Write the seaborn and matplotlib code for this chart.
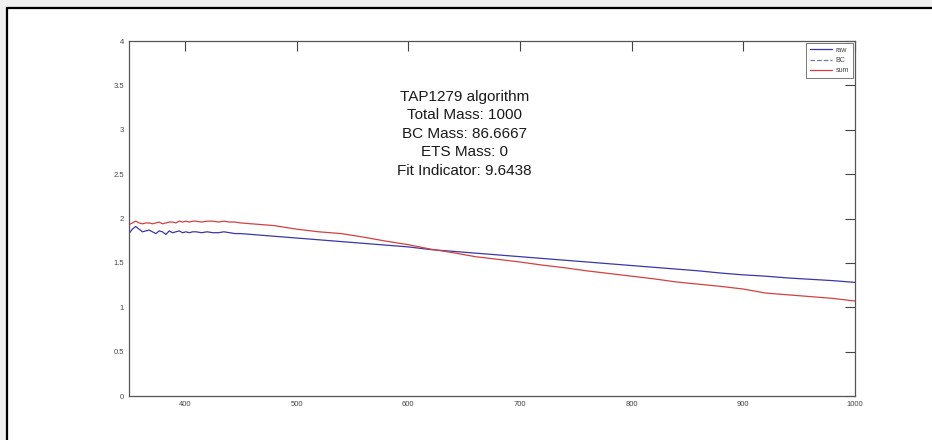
import matplotlib
matplotlib.use("Agg")
import matplotlib.pyplot as plt
from matplotlib.patches import Rectangle
import seaborn as sns
import pandas as pd

wavelength = [350, 353, 356, 359, 362, 365, 368, 371, 374, 377, 380, 383, 386, 389, 392, 395, 398, 401, 404, 407, 410,
              415, 420, 425, 430, 435, 440, 445, 450,
              460, 470, 480, 490, 500,
              520, 540, 560, 580, 600, 620, 640, 660, 680, 700, 720, 740, 760, 780, 800,
              820, 840, 860, 880, 900, 920, 940, 960, 980, 1000]
raw = [1.83, 1.88, 1.91, 1.88, 1.85, 1.86, 1.87, 1.85, 1.83, 1.86, 1.85, 1.82, 1.86, 1.84, 1.85, 1.86, 1.84, 1.85, 1.84, 1.85, 1.85,
       1.84, 1.85, 1.84, 1.84, 1.85, 1.84, 1.83, 1.83,
       1.82, 1.81, 1.80, 1.79, 1.78,
       1.76, 1.74, 1.72, 1.70, 1.68, 1.65, 1.63, 1.61, 1.59, 1.57, 1.55, 1.53, 1.51, 1.49, 1.47,
       1.45, 1.43, 1.41, 1.385, 1.365, 1.35, 1.33, 1.315, 1.30, 1.28]
total = [1.93, 1.95, 1.97, 1.95, 1.94, 1.95, 1.95, 1.94, 1.95, 1.96, 1.94, 1.95, 1.96, 1.96, 1.95, 1.97, 1.96, 1.97, 1.96, 1.97, 1.97,
         1.96, 1.97, 1.97, 1.96, 1.97, 1.96, 1.96, 1.95,
         1.94, 1.93, 1.92, 1.90, 1.88,
         1.85, 1.83, 1.79, 1.745, 1.705, 1.655, 1.615, 1.57, 1.54, 1.51, 1.475, 1.445, 1.41, 1.38, 1.35,
         1.32, 1.285, 1.26, 1.235, 1.205, 1.16, 1.14, 1.12, 1.10, 1.07]
bc = []  # BC curve not visible in the plotted range

info_lines = ["TAP1279 algorithm", "Total Mass: 1000", "BC Mass: 86.6667", "ETS Mass: 0", "Fit Indicator: 9.6438"]
x_ticks = [400, 500, 600, 700, 800, 900, 1000]
y_ticks = [0, 0.5, 1, 1.5, 2, 2.5, 3, 3.5, 4]

sns.set_style("white")
plt.rcParams['font.family'] = ['Liberation Sans', 'DejaVu Sans']

fig = plt.figure(figsize=(9.32, 4.40), dpi=100, facecolor="#f0f0f0")
fig.patches.append(Rectangle((6.5 / 932, -0.2), 1.2, 1.2 - 8 / 440,
                             transform=fig.transFigure, facecolor="white",
                             edgecolor="black", linewidth=1.6, zorder=-10))
ax = fig.add_axes([129 / 932, 1 - 396 / 440, (855 - 129) / 932, (396 - 41) / 440])

df = pd.DataFrame({"wl": wavelength, "raw": raw, "sum": total})
sns.lineplot(data=df, x="wl", y="raw", ax=ax, color="#3838a8", linewidth=0.9, label="raw")
ax.plot(bc, bc, color="#6a78a8", linestyle="--", linewidth=0.9, label="BC")
sns.lineplot(data=df, x="wl", y="sum", ax=ax, color="#d44040", linewidth=0.9, label="sum")

ax.set_xlim(350, 1000)
ax.set_ylim(0, 4)
ax.set_xticks(x_ticks)
ax.set_yticks(y_ticks)
ax.set_xticklabels([str(v) for v in x_ticks])
ax.set_yticklabels(["0", "0.5", "1", "1.5", "2", "2.5", "3", "3.5", "4"])
ax.set_xlabel("")
ax.set_ylabel("")
ax.tick_params(direction="in", length=7, width=0.8, colors="#444444", labelsize=5.5,
               top=True, right=True, labelcolor="#444444")
for s in ax.spines.values():
    s.set_color("#555555")
    s.set_linewidth(0.9)

leg = ax.legend(loc="upper right", fontsize=5, frameon=True, fancybox=False,
                handlelength=3.2, borderpad=0.5, labelspacing=0.45, handletextpad=0.5,
                borderaxespad=0.35)
leg.get_frame().set_edgecolor("#555555")
leg.get_frame().set_linewidth(0.7)
for t in leg.get_texts():
    t.set_color("#444444")

ax.text(0.462, 0.862, "\n".join(info_lines), transform=ax.transAxes, ha="center", va="top",
        fontsize=11, color="#1a1a1a", linespacing=1.4)

fig.savefig("out.png", dpi=100, facecolor=fig.get_facecolor())
